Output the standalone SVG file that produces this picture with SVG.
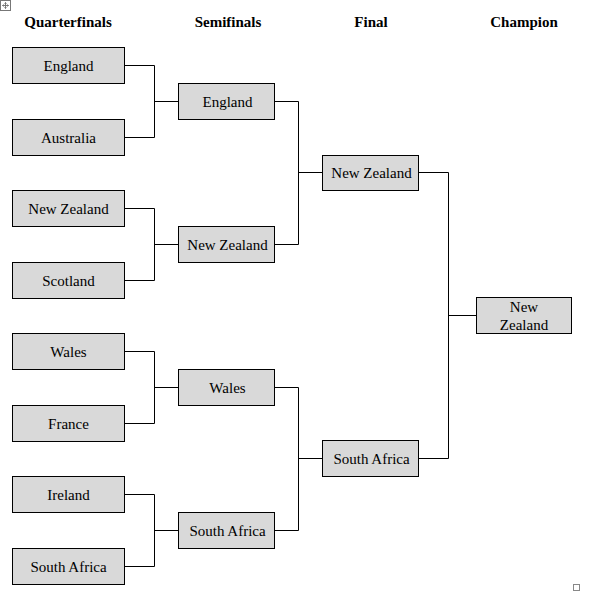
<svg xmlns="http://www.w3.org/2000/svg" width="592" height="592" viewBox="0 0 592 592">
<style>
.box{fill:#d9d9d9;stroke:#000;stroke-width:1}
.t{font-family:"Liberation Serif","Times New Roman",serif;font-size:15px;text-anchor:middle;fill:#000}
.h{font-family:"Liberation Serif","Times New Roman",serif;font-size:15px;font-weight:bold;text-anchor:middle;fill:#000}
.c{fill:none;stroke:#000;stroke-width:1}
</style>
<rect width="592" height="592" fill="#fff"/>
<g id="move-handle" fill="none" stroke="#777" stroke-width="1">
<rect x="0.5" y="0.5" width="10" height="10"/>
<path d="M5.5 2.5v6M2.5 5.5h6M4.5 3.5l1-1 1 1M4.5 7.5l1 1 1-1M3.5 4.5l-1 1 1 1M7.5 4.5l1 1-1 1"/>
</g>
<rect x="573.5" y="584.5" width="6" height="6" fill="none" stroke="#888"/>
<g id="headers">
<text class="h" x="68" y="27">Quarterfinals</text>
<text class="h" x="228" y="27">Semifinals</text>
<text class="h" x="371" y="27">Final</text>
<text class="h" x="524" y="27">Champion</text>
</g>
<g id="connectors" class="c">
<path d="M124.5 65.5H154.5V137.5H124.5M154.5 101.5H178.5"/>
<path d="M124.5 208.5H154.5V280.5H124.5M154.5 244.5H178.5"/>
<path d="M124.5 351.5H154.5V423.5H124.5M154.5 387.5H178.5"/>
<path d="M124.5 494.5H154.5V566.5H124.5M154.5 530.5H178.5"/>
<path d="M274.5 101.5H298.5V244.5H274.5M298.5 172.5H322.5"/>
<path d="M274.5 387.5H298.5V530.5H274.5M298.5 458.5H322.5"/>
<path d="M418.5 172.5H448.5V458.5H418.5M448.5 315.5H476.5"/>
</g>
<g id="qf1"><rect class="box" x="12.5" y="47.5" width="112" height="36"/><text class="t" x="68.5" y="70.5">England</text></g>
<g id="qf2"><rect class="box" x="12.5" y="119.5" width="112" height="36"/><text class="t" x="68.5" y="142.5">Australia</text></g>
<g id="qf3"><rect class="box" x="12.5" y="190.5" width="112" height="36"/><text class="t" x="68.5" y="213.5">New Zealand</text></g>
<g id="qf4"><rect class="box" x="12.5" y="262.5" width="112" height="36"/><text class="t" x="68.5" y="285.5">Scotland</text></g>
<g id="qf5"><rect class="box" x="12.5" y="333.5" width="112" height="36"/><text class="t" x="68.5" y="356.5">Wales</text></g>
<g id="qf6"><rect class="box" x="12.5" y="405.5" width="112" height="36"/><text class="t" x="68.5" y="428.5">France</text></g>
<g id="qf7"><rect class="box" x="12.5" y="476.5" width="112" height="36"/><text class="t" x="68.5" y="499.5">Ireland</text></g>
<g id="qf8"><rect class="box" x="12.5" y="548.5" width="112" height="36"/><text class="t" x="68.5" y="571.5">South Africa</text></g>
<g id="sf1"><rect class="box" x="178.5" y="83.5" width="96" height="36"/><text class="t" x="227.5" y="106.5">England</text></g>
<g id="sf2"><rect class="box" x="178.5" y="226.5" width="96" height="36"/><text class="t" x="227.5" y="249.5">New Zealand</text></g>
<g id="sf3"><rect class="box" x="178.5" y="369.5" width="96" height="36"/><text class="t" x="227.5" y="392.5">Wales</text></g>
<g id="sf4"><rect class="box" x="178.5" y="512.5" width="96" height="36"/><text class="t" x="227.5" y="535.5">South Africa</text></g>
<g id="f1"><rect class="box" x="322.5" y="155.5" width="96" height="35"/><text class="t" x="371.5" y="178">New Zealand</text></g>
<g id="f2"><rect class="box" x="322.5" y="440.5" width="96" height="36"/><text class="t" x="371.5" y="463.5">South Africa</text></g>
<g id="champion"><rect class="box" x="476.5" y="297.5" width="95" height="36"/><text class="t" x="524" y="312">New</text><text class="t" x="524" y="330">Zealand</text></g>
</svg>
